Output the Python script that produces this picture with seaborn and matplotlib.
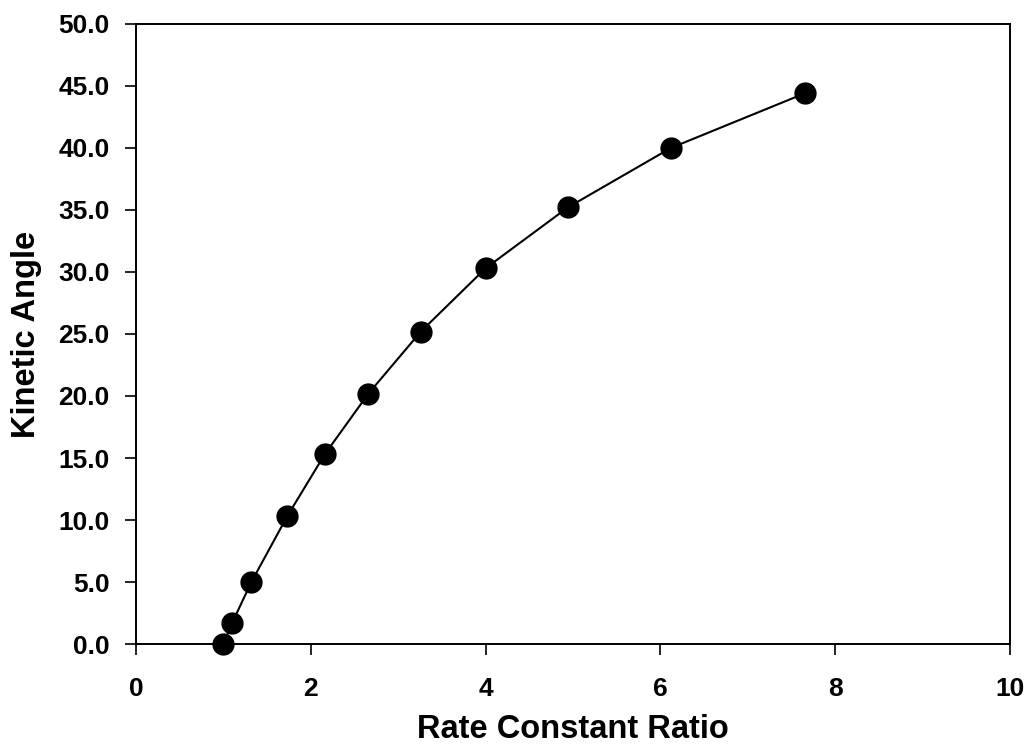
import matplotlib
matplotlib.use("Agg")
import matplotlib.pyplot as plt
import pandas as pd
import seaborn as sns

# ── Data ───────────────────────────────────────────────────────────────────
rate_ratio = [1.00, 1.10, 1.32, 1.73, 2.16, 2.66, 3.26, 4.00, 4.94, 6.12, 7.65]
kinetic_angle = [0.0, 1.7, 5.0, 10.3, 15.3, 20.2, 25.2, 30.3, 35.2, 40.0, 44.4]
x_ticks = [0, 2, 4, 6, 8, 10]
y_ticks = [0, 5, 10, 15, 20, 25, 30, 35, 40, 45, 50]

df = pd.DataFrame({"ratio": rate_ratio, "angle": kinetic_angle})

sns.set_style("ticks")
plt.rcParams["font.family"] = ["Liberation Sans", "DejaVu Sans"]
plt.rcParams["text.color"] = "black"
plt.rcParams["axes.labelcolor"] = "black"

fig = plt.figure(figsize=(10.28, 7.48), dpi=100)
ax = fig.add_axes([0.1323, 0.139, 0.8502, 0.829])

sns.lineplot(data=df, x="ratio", y="angle", color="black", linewidth=1.5, ax=ax)
sns.scatterplot(data=df, x="ratio", y="angle", color="black", s=220,
                edgecolor="black", zorder=3, ax=ax, clip_on=False)

ax.set_xlim(0, 10)
ax.set_ylim(0, 50)
ax.set_xticks(x_ticks)
ax.set_yticks(y_ticks)
ax.set_yticklabels([f"{v:.1f}" for v in y_ticks])
ax.tick_params(direction="out", length=8, width=1.2, labelsize=19,
               colors="black")
ax.tick_params(axis="x", pad=16)
ax.tick_params(axis="y", pad=11)
for lab in ax.get_xticklabels() + ax.get_yticklabels():
    lab.set_fontweight("bold")
for sp in ax.spines.values():
    sp.set_visible(True)
    sp.set_linewidth(1.4)
    sp.set_color("black")

ax.set_xlabel("Rate Constant Ratio", fontsize=23.5, fontweight="bold", labelpad=9)
ax.set_ylabel("Kinetic Angle", fontsize=23.5, fontweight="bold", labelpad=12)

fig.savefig("out.png", dpi=100)
